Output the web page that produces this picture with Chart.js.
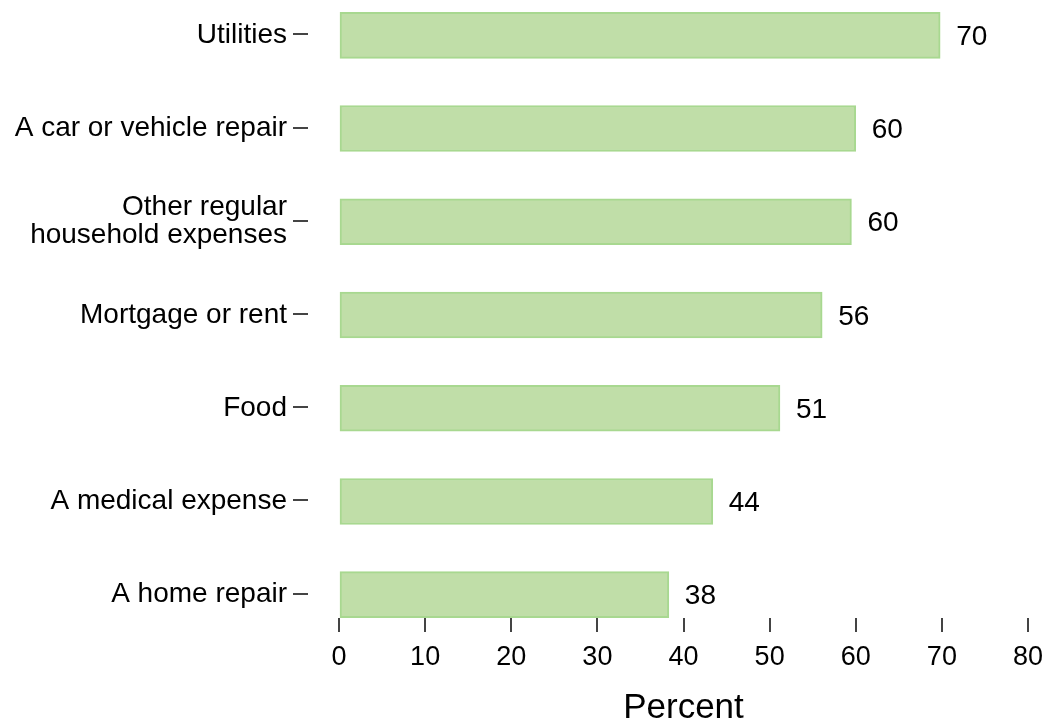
<!DOCTYPE html>
<html>
<head>
<meta charset="utf-8">
<script src="https://cdn.jsdelivr.net/npm/chart.js@4.4.1/dist/chart.umd.min.js"></script>
<style>
  html, body { margin: 0; padding: 0; background: #fff; }
</style>
</head>
<body>
<canvas id="chart" width="1047" height="723"></canvas>
<script>
// categories, top to bottom
const categories = [
    'Utilities',
    'A car or vehicle repair',
    ['Other regular', 'household expenses'],
    'Mortgage or rent',
    'Food',
    'A medical expense',
    'A home repair'
];
const percentValues = [69.8, 60.0, 59.5, 56.1, 51.2, 43.4, 38.3];
const valueLabels = ['70', '60', '60', '56', '51', '44', '38'];
const xTicks = [0, 10, 20, 30, 40, 50, 60, 70, 80];

const FONT = "'Liberation Sans', Arial, sans-serif";

// draws the little dashes beside the category names and the value labels
const extrasPlugin = {
    id: 'extras',
    afterDatasetsDraw(chart) {
        const ctx = chart.ctx;
        const yScale = chart.scales.y;
        const left = chart.chartArea.left;
        ctx.save();
        ctx.strokeStyle = '#444';
        ctx.lineWidth = 2;
        yScale.ticks.forEach((t, i) => {
            const y = Math.round(yScale.getPixelForTick(i)) - 1;
            ctx.beginPath();
            ctx.moveTo(left - 46, y);
            ctx.lineTo(left - 31, y);
            ctx.stroke();
        });
        const meta = chart.getDatasetMeta(0);
        ctx.fillStyle = '#000';
        ctx.font = '28px ' + FONT;
        ctx.textAlign = 'left';
        ctx.textBaseline = 'middle';
        meta.data.forEach((bar, i) => {
            ctx.fillText(valueLabels[i], bar.x + 16, bar.y + 2);
        });
        ctx.restore();
    }
};

const ctx = document.getElementById('chart').getContext('2d');
new Chart(ctx, {
    type: 'bar',
    data: {
        datasets: [{
            data: percentValues.map((v, i) => ({ x: v, y: i })),
            backgroundColor: '#c0dea8',
            borderColor: '#a8d890',
            borderWidth: 2,
            borderSkipped: false,
            barThickness: 46
        }]
    },
    plugins: [extrasPlugin],
    options: {
        indexAxis: 'y',
        responsive: false,
        animation: false,
        devicePixelRatio: 1,
        layout: { padding: { top: 12, right: 19, left: 0, bottom: 0 } },
        plugins: {
            legend: { display: false },
            tooltip: { enabled: false }
        },
        scales: {
            x: {
                type: 'linear',
                min: 0,
                max: 80,
                afterBuildTicks: s => { s.ticks = xTicks.map(v => ({ value: v })); },
                grid: { drawOnChartArea: false, drawTicks: true, tickLength: 14, color: '#444', lineWidth: 2 },
                border: { display: false },
                ticks: { color: '#000', font: { family: FONT, size: 27 }, padding: 9, maxRotation: 0 },
                title: { display: true, text: 'Percent', color: '#000', font: { family: FONT, size: 35 }, padding: { top: 20, bottom: -6 } },
                afterFit: s => { s.height = 105; s.paddingLeft = 0; s.paddingRight = 0; }
            },
            y: {
                type: 'linear',
                min: -0.25,
                max: 6.25,
                reverse: true,
                offset: false,
                afterBuildTicks: s => { s.ticks = categories.map((c, i) => ({ value: i })); },
                grid: { display: false, drawTicks: false, offset: false },
                border: { display: false },
                ticks: {
                    color: '#000',
                    font: { family: FONT, size: 28, lineHeight: 1.0 },
                    padding: 52,
                    callback: v => categories[v]
                },
                afterFit: s => { s.width = 339; s.paddingTop = 0; s.paddingBottom = 0; }
            }
        }
    }
});
</script>
</body>
</html>
